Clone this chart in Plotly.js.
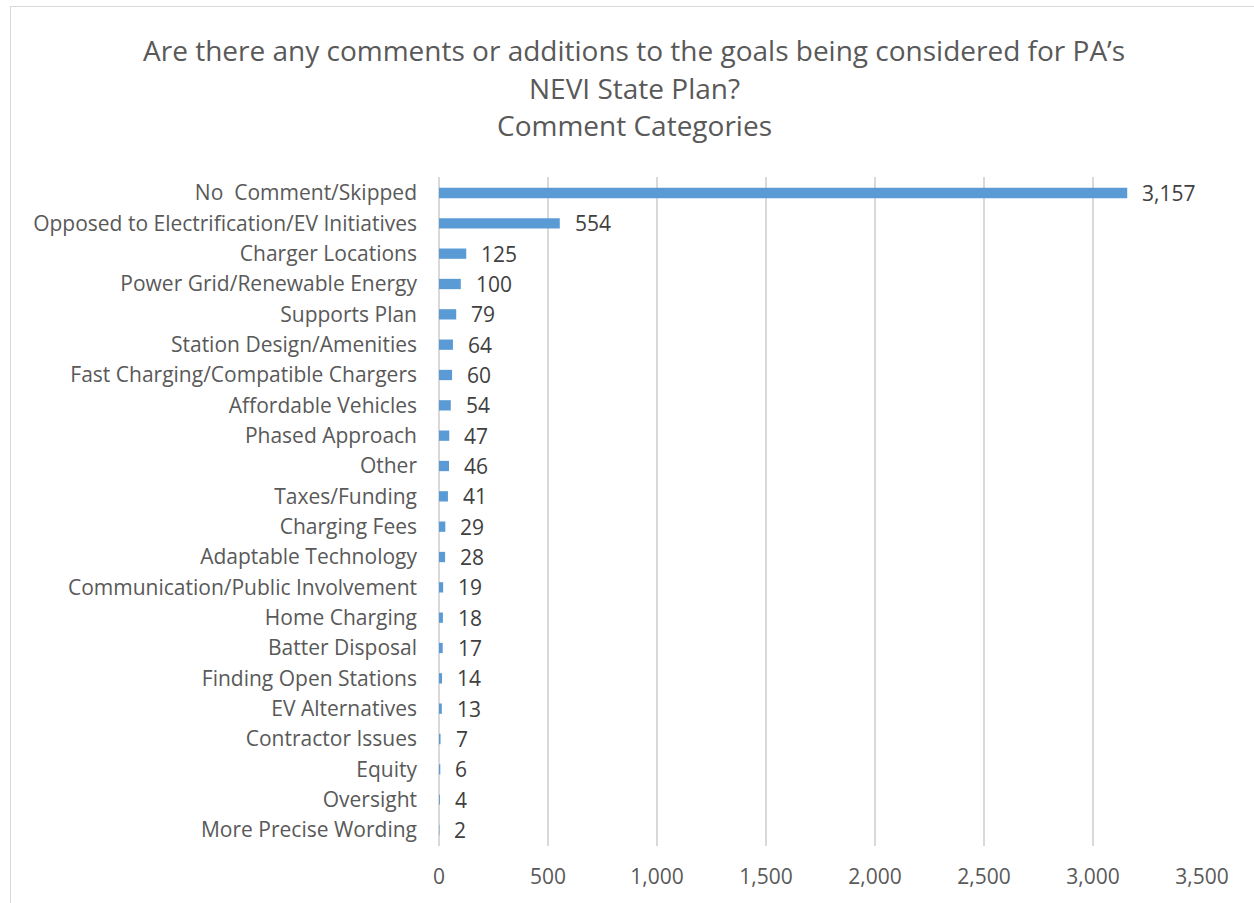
<!DOCTYPE html>
<html>
<head>
<meta charset="utf-8">
<script src="https://cdn.plot.ly/plotly-3.0.1.min.js"></script>
<style>
html,body{margin:0;padding:0;background:#fff;overflow:hidden;}
#frame{position:absolute;left:10px;top:6px;width:1400px;height:1000px;border:1.5px solid #d9d9d9;}
#chart{position:absolute;left:0;top:0;width:1254px;height:903px;}
</style>
</head>
<body>
<div id="frame"></div>
<div id="chart"></div>
<script>
const categories = [
  "No  Comment/Skipped",
  "Opposed to Electrification/EV Initiatives",
  "Charger Locations",
  "Power Grid/Renewable Energy",
  "Supports Plan",
  "Station Design/Amenities",
  "Fast Charging/Compatible Chargers",
  "Affordable Vehicles",
  "Phased Approach",
  "Other",
  "Taxes/Funding",
  "Charging Fees",
  "Adaptable Technology",
  "Communication/Public Involvement",
  "Home Charging",
  "Batter Disposal",
  "Finding Open Stations",
  "EV Alternatives",
  "Contractor Issues",
  "Equity",
  "Oversight",
  "More Precise Wording"
];
const counts = [3157, 554, 125, 100, 79, 64, 60, 54, 47, 46, 41, 29, 28, 19, 18, 17, 14, 13, 7, 6, 4, 2];
const xTicks = [0, 500, 1000, 1500, 2000, 2500, 3000, 3500];
const titleLines = ["Are there any comments or additions to the goals being considered for PA\u2019s", "NEVI State Plan?", "Comment Categories"];

const FONT = "'Open Sans', sans-serif";
const LBL = 21;

const trace = {
  type: "bar",
  orientation: "h",
  x: counts,
  y: categories,
  marker: {color: "#5b9bd5"},
  hoverinfo: "x+y"
};

const annotations = counts.map((v, i) => ({
  x: v, y: categories[i], xref: "x", yref: "y",
  text: v.toLocaleString("en-US"),
  showarrow: false, xanchor: "left", xshift: 13,
  font: {family: FONT, size: LBL, color: "#404040"}
}));

// title lines placed as paper annotations (plot bottom at 846px, height 669px)
const titleCenters = [50, 88, 125];
titleLines.forEach((t, i) => {
  annotations.push({
    text: t, xref: "paper", yref: "paper",
    x: (634 - 439) / 763, y: (846 - titleCenters[i]) / 669,
    xanchor: "center", yanchor: "middle", showarrow: false,
    font: {family: FONT, size: 28, color: "#595959"}
  });
});

const layout = {
  width: 1254, height: 903,
  paper_bgcolor: "rgba(0,0,0,0)",
  plot_bgcolor: "rgba(0,0,0,0)",
  margin: {l: 439, r: 52, t: 177, b: 57},
  showlegend: false,
  bargap: 0.66,
  xaxis: {
    range: [0, 3500],
    tickvals: xTicks,
    tickformat: ",d",
    showgrid: true, gridcolor: "#d9d9d9", gridwidth: 1.5,
    zeroline: true, zerolinecolor: "#d9d9d9", zerolinewidth: 1.5,
    showline: false,
    ticks: "",
    ticklabelstandoff: 16,
    tickfont: {family: FONT, size: LBL, color: "#595959"},
    fixedrange: true
  },
  yaxis: {
    type: "category",
    categoryorder: "array",
    categoryarray: categories,
    autorange: "reversed",
    showgrid: false, zeroline: false, showline: false,
    ticks: "",
    ticklabelstandoff: 21,
    tickfont: {family: FONT, size: LBL, color: "#595959"},
    fixedrange: true
  },
  annotations: annotations
};

Plotly.newPlot("chart", [trace], layout, {displayModeBar: false, staticPlot: true});
</script>
</body>
</html>
